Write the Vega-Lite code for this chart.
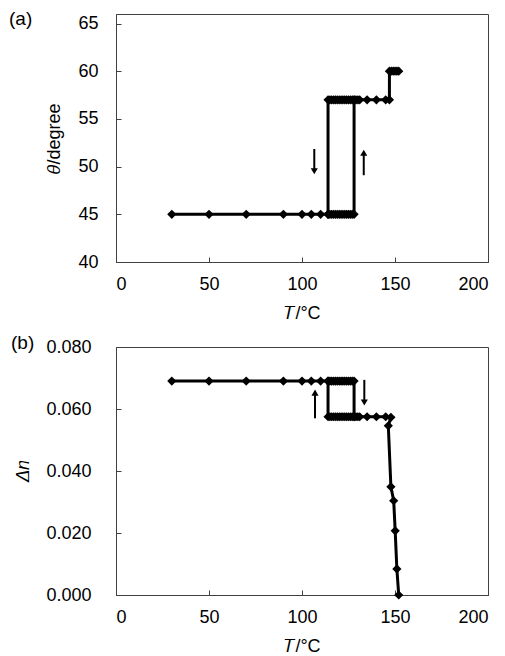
{
  "$schema": "https://vega.github.io/schema/vega-lite/v6.json",
  "padding": {"left": 8, "top": 9, "right": 2, "bottom": 1},
  "spacing": 10,
  "config": {
    "font": "Liberation Sans",
    "view": {"stroke": "#404040", "strokeWidth": 1},
    "axis": {"grid": false, "domainColor": "#404040", "tickColor": "#404040", "tickSize": -5, "labelFontSize": 18, "titleFontSize": 18, "labelColor": "black", "titleColor": "black", "titleFontWeight": "normal", "labelFont": "Liberation Sans", "titleFont": "Liberation Sans"},
    "title": {"fontSize": 19, "fontWeight": "normal", "anchor": "start", "frame": "group", "offset": 0, "font": "Liberation Sans", "color": "black"}
  },
  "datasets": {
    "a": [
      {"T": 30, "v": 45, "run": "h", "o": 1}, {"T": 50, "v": 45, "run": "h", "o": 2}, {"T": 70, "v": 45, "run": "h", "o": 3}, {"T": 90, "v": 45, "run": "h", "o": 4}, {"T": 100, "v": 45, "run": "h", "o": 5}, {"T": 105, "v": 45, "run": "h", "o": 6}, {"T": 110, "v": 45, "run": "h", "o": 7},
      {"T": 114, "v": 45, "run": "h", "o": 8}, {"T": 115, "v": 45, "run": "h", "o": 9}, {"T": 116, "v": 45, "run": "h", "o": 10}, {"T": 117, "v": 45, "run": "h", "o": 11}, {"T": 118, "v": 45, "run": "h", "o": 12}, {"T": 119, "v": 45, "run": "h", "o": 13}, {"T": 120, "v": 45, "run": "h", "o": 14}, {"T": 121, "v": 45, "run": "h", "o": 15}, {"T": 122, "v": 45, "run": "h", "o": 16}, {"T": 123, "v": 45, "run": "h", "o": 17}, {"T": 124, "v": 45, "run": "h", "o": 18}, {"T": 125, "v": 45, "run": "h", "o": 19}, {"T": 126, "v": 45, "run": "h", "o": 20}, {"T": 127, "v": 45, "run": "h", "o": 21}, {"T": 128, "v": 45, "run": "h", "o": 22},
      {"T": 128, "v": 57, "run": "h", "o": 23}, {"T": 129, "v": 57, "run": "h", "o": 24}, {"T": 130, "v": 57, "run": "h", "o": 25}, {"T": 131, "v": 57, "run": "h", "o": 26}, {"T": 135, "v": 57, "run": "h", "o": 27}, {"T": 140, "v": 57, "run": "h", "o": 28}, {"T": 145, "v": 57, "run": "h", "o": 29}, {"T": 147, "v": 57, "run": "h", "o": 30},
      {"T": 147, "v": 60, "run": "h", "o": 31}, {"T": 148, "v": 60, "run": "h", "o": 32}, {"T": 149, "v": 60, "run": "h", "o": 33}, {"T": 150, "v": 60, "run": "h", "o": 34}, {"T": 151, "v": 60, "run": "h", "o": 35}, {"T": 152, "v": 60, "run": "h", "o": 36},
      {"T": 128, "v": 57, "run": "c", "o": 1}, {"T": 127, "v": 57, "run": "c", "o": 2}, {"T": 126, "v": 57, "run": "c", "o": 3}, {"T": 125, "v": 57, "run": "c", "o": 4}, {"T": 124, "v": 57, "run": "c", "o": 5}, {"T": 123, "v": 57, "run": "c", "o": 6}, {"T": 122, "v": 57, "run": "c", "o": 7}, {"T": 121, "v": 57, "run": "c", "o": 8}, {"T": 120, "v": 57, "run": "c", "o": 9}, {"T": 119, "v": 57, "run": "c", "o": 10}, {"T": 118, "v": 57, "run": "c", "o": 11}, {"T": 117, "v": 57, "run": "c", "o": 12}, {"T": 116, "v": 57, "run": "c", "o": 13}, {"T": 115, "v": 57, "run": "c", "o": 14}, {"T": 114, "v": 57, "run": "c", "o": 15}, {"T": 114, "v": 45, "run": "c", "o": 16}
    ],
    "b": [
      {"T": 30, "v": 0.069, "run": "h", "o": 1}, {"T": 50, "v": 0.069, "run": "h", "o": 2}, {"T": 70, "v": 0.069, "run": "h", "o": 3}, {"T": 90, "v": 0.069, "run": "h", "o": 4}, {"T": 100, "v": 0.069, "run": "h", "o": 5}, {"T": 105, "v": 0.069, "run": "h", "o": 6}, {"T": 110, "v": 0.069, "run": "h", "o": 7},
      {"T": 114, "v": 0.069, "run": "h", "o": 8}, {"T": 115, "v": 0.069, "run": "h", "o": 9}, {"T": 116, "v": 0.069, "run": "h", "o": 10}, {"T": 117, "v": 0.069, "run": "h", "o": 11}, {"T": 118, "v": 0.069, "run": "h", "o": 12}, {"T": 119, "v": 0.069, "run": "h", "o": 13}, {"T": 120, "v": 0.069, "run": "h", "o": 14}, {"T": 121, "v": 0.069, "run": "h", "o": 15}, {"T": 122, "v": 0.069, "run": "h", "o": 16}, {"T": 123, "v": 0.069, "run": "h", "o": 17}, {"T": 124, "v": 0.069, "run": "h", "o": 18}, {"T": 125, "v": 0.069, "run": "h", "o": 19}, {"T": 126, "v": 0.069, "run": "h", "o": 20}, {"T": 127, "v": 0.069, "run": "h", "o": 21}, {"T": 128, "v": 0.069, "run": "h", "o": 22},
      {"T": 128, "v": 0.0575, "run": "h", "o": 23}, {"T": 129, "v": 0.0575, "run": "h", "o": 24}, {"T": 130, "v": 0.0575, "run": "h", "o": 25}, {"T": 131, "v": 0.0575, "run": "h", "o": 26}, {"T": 135, "v": 0.0575, "run": "h", "o": 27}, {"T": 140, "v": 0.0575, "run": "h", "o": 28}, {"T": 145, "v": 0.0575, "run": "h", "o": 29}, {"T": 147.8, "v": 0.0573, "run": "h", "o": 30},
      {"T": 146.4, "v": 0.0546, "run": "h", "o": 31}, {"T": 147.8, "v": 0.0349, "run": "h", "o": 32}, {"T": 149.3, "v": 0.0304, "run": "h", "o": 33}, {"T": 150.1, "v": 0.0207, "run": "h", "o": 34}, {"T": 151, "v": 0.0084, "run": "h", "o": 35}, {"T": 152, "v": 0, "run": "h", "o": 36},
      {"T": 128, "v": 0.0575, "run": "c", "o": 1}, {"T": 127, "v": 0.0575, "run": "c", "o": 2}, {"T": 126, "v": 0.0575, "run": "c", "o": 3}, {"T": 125, "v": 0.0575, "run": "c", "o": 4}, {"T": 124, "v": 0.0575, "run": "c", "o": 5}, {"T": 123, "v": 0.0575, "run": "c", "o": 6}, {"T": 122, "v": 0.0575, "run": "c", "o": 7}, {"T": 121, "v": 0.0575, "run": "c", "o": 8}, {"T": 120, "v": 0.0575, "run": "c", "o": 9}, {"T": 119, "v": 0.0575, "run": "c", "o": 10}, {"T": 118, "v": 0.0575, "run": "c", "o": 11}, {"T": 117, "v": 0.0575, "run": "c", "o": 12}, {"T": 116, "v": 0.0575, "run": "c", "o": 13}, {"T": 115, "v": 0.0575, "run": "c", "o": 14}, {"T": 114, "v": 0.0575, "run": "c", "o": 15}, {"T": 114, "v": 0.069, "run": "c", "o": 16}
    ],
    "arrA": [
      {"T": 106.6, "a": 51.85, "h": 49.52, "dir": "down"},
      {"T": 133.2, "a": 49.1, "h": 51.45, "dir": "up"}
    ],
    "arrB": [
      {"T": 107, "a": 0.057, "h": 0.0653, "dir": "up"},
      {"T": 133.5, "a": 0.0694, "h": 0.0621, "dir": "down"}
    ]
  },
  "vconcat": [
    {
      "width": 372, "height": 248,
      "title": {"text": "(a)", "dx": -107, "dy": 19},
      "layer": [
        {
          "data": {"name": "a"},
          "mark": {"type": "line", "color": "black", "strokeWidth": 3},
          "encoding": {
            "x": {"field": "T", "type": "quantitative", "scale": {"domain": [0, 200]}, "axis": {"values": [0, 50, 100, 150, 200], "title": "𝑇/°C", "labelPadding": 18, "titlePadding": 11}},
            "y": {"field": "v", "type": "quantitative", "scale": {"domain": [40, 65]}, "axis": {"values": [40, 45, 50, 55, 60, 65], "title": "𝜃/degree", "labelPadding": 23, "titlePadding": 14}},
            "detail": {"field": "run"},
            "order": {"field": "o"}
          }
        },
        {
          "data": {"name": "a"},
          "mark": {"type": "point", "shape": "diamond", "filled": true, "color": "black", "size": 85, "opacity": 1},
          "encoding": {
            "x": {"field": "T", "type": "quantitative"},
            "y": {"field": "v", "type": "quantitative"}
          }
        },
        {
          "data": {"name": "arrA"},
          "mark": {"type": "rule", "color": "black", "strokeWidth": 2},
          "encoding": {
            "x": {"field": "T", "type": "quantitative"},
            "y": {"field": "a", "type": "quantitative"},
            "y2": {"field": "h"}
          }
        },
        {
          "data": {"name": "arrA"},
          "mark": {"type": "point", "filled": true, "color": "black", "size": 50, "opacity": 1},
          "encoding": {
            "x": {"field": "T", "type": "quantitative"},
            "y": {"field": "h", "type": "quantitative"},
            "shape": {"field": "dir", "type": "nominal", "scale": {"domain": ["down", "up"], "range": ["triangle-down", "triangle-up"]}, "legend": null}
          }
        }
      ]
    },
    {
      "width": 372, "height": 248,
      "title": {"text": "(b)", "dx": -105, "dy": 19},
      "layer": [
        {
          "data": {"name": "b"},
          "mark": {"type": "line", "color": "black", "strokeWidth": 3},
          "encoding": {
            "x": {"field": "T", "type": "quantitative", "scale": {"domain": [0, 200]}, "axis": {"values": [0, 50, 100, 150, 200], "title": "𝑇/°C", "labelPadding": 18, "titlePadding": 11}},
            "y": {"field": "v", "type": "quantitative", "scale": {"domain": [0, 0.08]}, "axis": {"values": [0, 0.02, 0.04, 0.06, 0.08], "format": ".3f", "title": "𝛥𝑛", "labelPadding": 30, "titlePadding": 13}},
            "detail": {"field": "run"},
            "order": {"field": "o"}
          }
        },
        {
          "data": {"name": "b"},
          "mark": {"type": "point", "shape": "diamond", "filled": true, "color": "black", "size": 85, "opacity": 1},
          "encoding": {
            "x": {"field": "T", "type": "quantitative"},
            "y": {"field": "v", "type": "quantitative"}
          }
        },
        {
          "data": {"name": "arrB"},
          "mark": {"type": "rule", "color": "black", "strokeWidth": 2},
          "encoding": {
            "x": {"field": "T", "type": "quantitative"},
            "y": {"field": "a", "type": "quantitative"},
            "y2": {"field": "h"}
          }
        },
        {
          "data": {"name": "arrB"},
          "mark": {"type": "point", "filled": true, "color": "black", "size": 50, "opacity": 1},
          "encoding": {
            "x": {"field": "T", "type": "quantitative"},
            "y": {"field": "h", "type": "quantitative"},
            "shape": {"field": "dir", "type": "nominal", "scale": {"domain": ["down", "up"], "range": ["triangle-down", "triangle-up"]}, "legend": null}
          }
        }
      ]
    }
  ]
}
